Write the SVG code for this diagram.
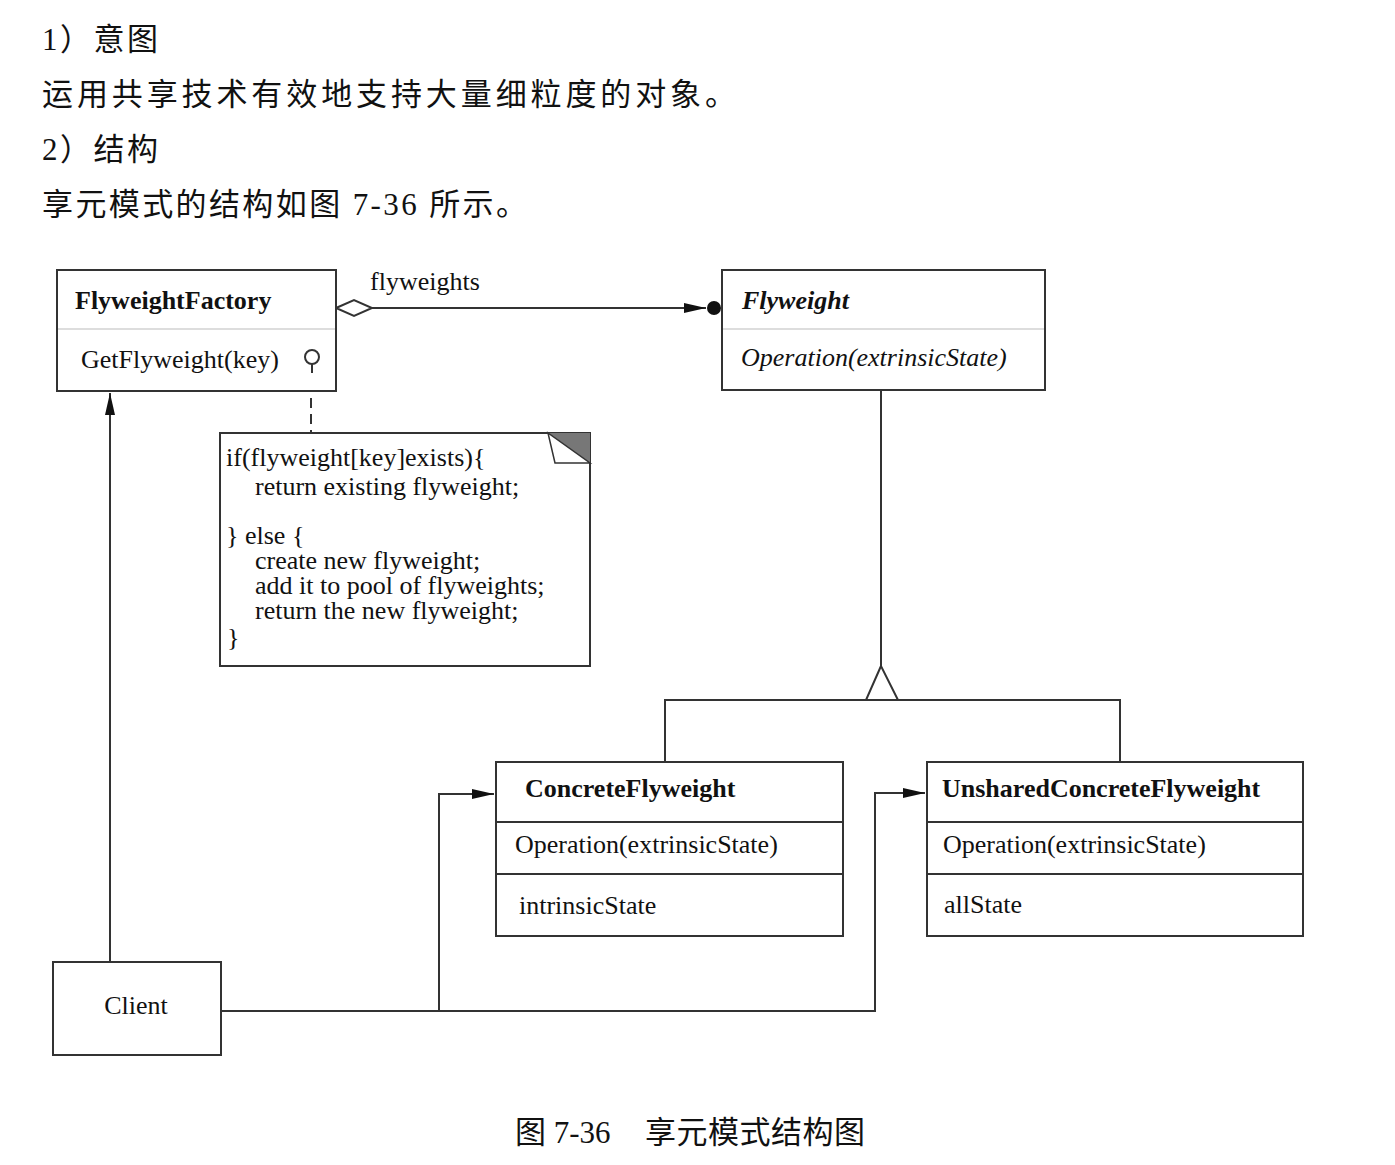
<svg xmlns="http://www.w3.org/2000/svg" width="1395" height="1165" viewBox="0 0 1395 1165">
<style>
.box{fill:#fff;stroke:#333;stroke-width:2}
.div1{stroke:#bbb;stroke-width:1.2}
.div2{stroke:#333;stroke-width:2}
.t{font-family:"Liberation Serif","Noto Sans CJK SC",serif;font-size:26px;fill:#111}
.b{font-weight:bold}
.i{font-style:italic}
.cn{font-family:"Liberation Serif","Noto Sans CJK SC",serif;font-size:31px;fill:#111}
.ln{fill:none;stroke:#333;stroke-width:2}
</style>
<defs>
<marker id="arr" viewBox="0 0 22 10" refX="22" refY="5" markerWidth="22" markerHeight="10" markerUnits="userSpaceOnUse" orient="auto">
<path d="M0,0 L22,5 L0,10 Z" fill="#111"/>
</marker>
</defs>
<rect width="1395" height="1165" fill="#fff"/>

<g id="heading">
<text class="cn" x="42" y="50" letter-spacing="2.5">1）意图</text>
<text class="cn" x="42" y="105" textLength="694">运用共享技术有效地支持大量细粒度的对象。</text>
<text class="cn" x="42" y="160" letter-spacing="2.5">2）结构</text>
<text class="cn" x="42" y="215" textLength="485">享元模式的结构如图 7-36 所示。</text>
</g>

<g id="connectors">
<line class="ln" x1="372" y1="308" x2="706" y2="308" marker-end="url(#arr)"/>
<path d="M336,308 L354,300 L372,308 L354,316 Z" fill="#fff" stroke="#333" stroke-width="2"/>
<circle cx="714" cy="308" r="7" fill="#111"/>
<text class="t" x="370" y="290">flyweights</text>
<line x1="311" y1="398" x2="311" y2="432" stroke="#333" stroke-width="2" stroke-dasharray="10,6"/>
<line class="ln" x1="881" y1="390" x2="881" y2="666"/>
<path d="M881,666 L866,700 L898,700 Z" fill="#fff" stroke="#333" stroke-width="2"/>
<path class="ln" d="M665,762 V700 H1120 V762"/>
<line class="ln" x1="110" y1="962" x2="110" y2="393" marker-end="url(#arr)"/>
<path class="ln" d="M221,1011 H875 V793 H925" marker-end="url(#arr)"/>
<path class="ln" d="M439,1011 V794 H494" marker-end="url(#arr)"/>
</g>

<g id="FlyweightFactory">
<rect class="box" x="57" y="270" width="279" height="121"/>
<line class="div1" x1="58" y1="329" x2="335" y2="329"/>
<text class="t b" x="75" y="309">FlyweightFactory</text>
<text class="t" x="81" y="368">GetFlyweight(key)</text>
<circle cx="312" cy="357" r="7" fill="#fff" stroke="#333" stroke-width="2"/>
<line x1="312" y1="364" x2="312" y2="373" stroke="#333" stroke-width="2"/>
</g>

<g id="Flyweight">
<rect class="box" x="722" y="270" width="323" height="120"/>
<line class="div1" x1="723" y1="329" x2="1044" y2="329"/>
<text class="t b i" x="742" y="309">Flyweight</text>
<text class="t i" x="741" y="366">Operation(extrinsicState)</text>
</g>

<g id="note">
<path d="M220,433 H590 V666 H220 Z" fill="#fff" stroke="#333" stroke-width="2"/>
<path d="M548,433 L590,433 L590,463 Z" fill="#777"/>
<path d="M548,433 L555,463 L590,463 Z" fill="#fff" stroke="#333" stroke-width="1.5"/>
<text class="t" x="226" y="466">if(flyweight[key]exists){</text>
<text class="t" x="255" y="495">return existing flyweight;</text>
<text class="t" x="226" y="544">} else {</text>
<text class="t" x="255" y="569">create new flyweight;</text>
<text class="t" x="255" y="594">add it to pool of flyweights;</text>
<text class="t" x="255" y="619">return the new flyweight;</text>
<text class="t" x="227" y="646">}</text>
</g>

<g id="ConcreteFlyweight">
<rect class="box" x="496" y="762" width="347" height="174"/>
<line class="div2" x1="496" y1="822" x2="843" y2="822"/>
<line class="div2" x1="496" y1="874" x2="843" y2="874"/>
<text class="t b" x="525" y="797">ConcreteFlyweight</text>
<text class="t" x="515" y="853">Operation(extrinsicState)</text>
<text class="t" x="519" y="914">intrinsicState</text>
</g>

<g id="UnsharedConcreteFlyweight">
<rect class="box" x="927" y="762" width="376" height="174"/>
<line class="div2" x1="927" y1="822" x2="1303" y2="822"/>
<line class="div2" x1="927" y1="874" x2="1303" y2="874"/>
<text class="t b" x="942" y="797">UnsharedConcreteFlyweight</text>
<text class="t" x="943" y="853">Operation(extrinsicState)</text>
<text class="t" x="944" y="913">allState</text>
</g>

<g id="Client">
<rect class="box" x="53" y="962" width="168" height="93"/>
<text class="t" x="136" y="1014" text-anchor="middle">Client</text>
</g>

<g id="caption">
<text class="cn" x="515" y="1143">图 7-36</text>
<text class="cn" x="645" y="1143" textLength="220">享元模式结构图</text>
</g>
</svg>
